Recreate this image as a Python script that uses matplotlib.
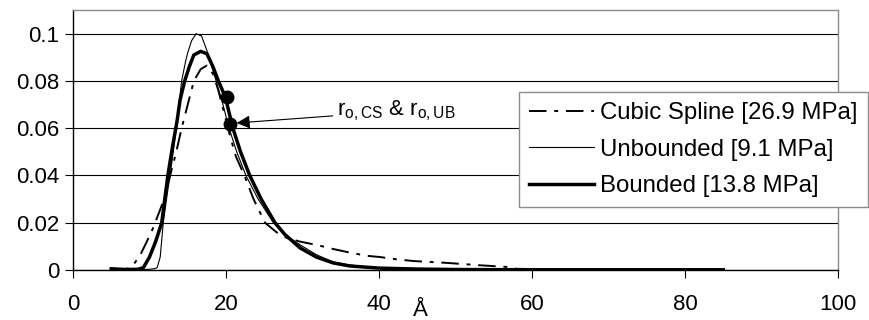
import matplotlib
matplotlib.use("Agg")
import matplotlib.pyplot as plt

plt.rcParams['font.family'] = ['Liberation Sans', 'DejaVu Sans']
plt.rcParams['mathtext.fontset'] = 'custom'
plt.rcParams['mathtext.rm'] = 'Liberation Sans'
plt.rcParams['mathtext.it'] = 'Liberation Sans'

# Pore-size distributions (x in Å)
cs_x = [5, 7, 7.7, 8.8, 9.5, 10.5, 11.8, 12.7, 13.5, 14.2, 15.0, 15.8, 16.7, 17.5,
        18.3, 19.0, 19.8, 20.5, 21.3, 22.4, 23.6, 25.1, 26.6, 28.0, 29.7, 32.0,
        34.0, 36.0, 38.4, 40.1, 42.3, 44.5, 48.9, 53.2, 56.7, 58.0, 60, 70, 85]
cs_y = [0.0, 0.0005, 0.0013, 0.0064, 0.011, 0.018, 0.029, 0.040, 0.050, 0.060,
        0.070, 0.080, 0.085, 0.0865, 0.083, 0.076, 0.066, 0.057, 0.048, 0.040,
        0.030, 0.020, 0.016, 0.0135, 0.012, 0.0105, 0.0089, 0.0075, 0.006,
        0.0055, 0.0045, 0.0038, 0.003, 0.002, 0.0013, 0.0005, 0.0004, 0.0003, 0.0002]

ub_x = [5, 7, 9, 10, 10.7, 11.0, 11.4, 11.8, 12.4, 12.7, 13.5, 14.2, 14.7, 15.0,
        15.5, 16.1, 16.8, 17.6, 18.7, 19.6, 20.4, 21.4, 22.6, 24.2, 26.2, 27.5,
        29.7, 31.8, 34.0, 36.0, 38.4, 41, 45, 50, 60, 70, 85]
ub_y = [0.0008, 0.0002, 0.0002, 0.0003, 0.0006, 0.001, 0.0055, 0.020, 0.034,
        0.040, 0.060, 0.080, 0.088, 0.092, 0.097, 0.100, 0.099, 0.092, 0.080,
        0.070, 0.060, 0.050, 0.040, 0.030, 0.020, 0.0155, 0.0106, 0.0065, 0.0034,
        0.0022, 0.0013, 0.0007, 0.0004, 0.0002, 0.0001, 0.0001, 0.0001]

bd_x = [5, 7, 8.5, 9.2, 10.0, 10.8, 11.6, 12.4, 13.0, 13.6, 14.0, 14.6, 15.2,
        15.8, 16.7, 17.5, 18.3, 19.0, 19.9, 20.9, 21.9, 23.1, 24.6, 26.4, 27.7,
        29.7, 31.8, 34.0, 36.2, 40, 45, 50, 60, 70, 85]
bd_y = [0.0005, 0.0002, 0.0003, 0.001, 0.0055, 0.012, 0.020, 0.040, 0.052,
        0.063, 0.072, 0.080, 0.086, 0.091, 0.0925, 0.0915, 0.086, 0.080, 0.0733,
        0.060, 0.050, 0.040, 0.030, 0.020, 0.015, 0.0093, 0.0055, 0.003, 0.0017,
        0.0008, 0.0004, 0.0002, 0.0001, 0.0001, 0.0001]

# Mode radii picked out on the curves
ro_x = [20.1, 20.5]
ro_y = [0.0733, 0.0619]

labels = ["Cubic Spline [26.9 MPa]", "Unbounded [9.1 MPa]", "Bounded [13.8 MPa]"]
x_ticks = [0, 20, 40, 60, 80, 100]
y_ticks = [0, 0.02, 0.04, 0.06, 0.08, 0.1]
y_ticklabels = ["0", "0.02", "0.04", "0.06", "0.08", "0.1"]

fig = plt.figure(figsize=(8.7, 3.2), dpi=100)
ax = fig.add_axes([73 / 870, 50 / 320, 765 / 870, 260 / 320])

ax.plot(cs_x, cs_y, color='black', lw=1.4, linestyle=(0, (9, 4, 2, 4)), label=labels[0])
ax.plot(ub_x, ub_y, color='black', lw=0.8, label=labels[1])
ax.plot(bd_x, bd_y, color='black', lw=2.5, label=labels[2])
ax.plot(ro_x, ro_y, 'o', color='black', markersize=9, zorder=5)

ax.annotate(r"r$_{\mathrm{o,CS}}$ & r$_{\mathrm{o,UB}}$",
            xy=(21.4, 0.0622), xytext=(34.5, 0.0672),
            fontsize=16, va='center', ha='left',
            arrowprops=dict(arrowstyle='-|>', color='black', lw=0.8,
                            mutation_scale=20, shrinkA=1, shrinkB=0))

ax.set_xlim(0, 100)
ax.set_ylim(0, 0.11)
ax.set_xticks(x_ticks)
ax.set_yticks(y_ticks)
ax.set_yticklabels(y_ticklabels)
ax.tick_params(axis='both', direction='out', length=6, width=0.8, labelsize=16,
               color='black')
ax.tick_params(axis='x', pad=11)
ax.tick_params(axis='y', pad=4)

ax.yaxis.grid(True, color='black', lw=0.8)
ax.set_axisbelow(True)
for side in ['top', 'right']:
    ax.spines[side].set_color('#8c8c8c')
    ax.spines[side].set_linewidth(1.0)
for side in ['left', 'bottom']:
    ax.spines[side].set_color('black')
    ax.spines[side].set_linewidth(1.0)

ax.set_xlabel("Å", fontsize=16)
ax.xaxis.set_label_coords(0.4536, -0.196)
ax.xaxis.label.set_va('bottom')

leg = ax.legend(loc='upper left', bbox_to_anchor=(519 / 870, 1 - 92 / 320),
                bbox_transform=fig.transFigure, borderaxespad=0, fontsize=17.3,
                handlelength=2.7, handletextpad=0.25, labelspacing=0.6,
                borderpad=0.42, fancybox=False, framealpha=1, edgecolor='#8c8c8c')
leg.get_frame().set_linewidth(1.0)

fig.savefig("out.png", dpi=100)
